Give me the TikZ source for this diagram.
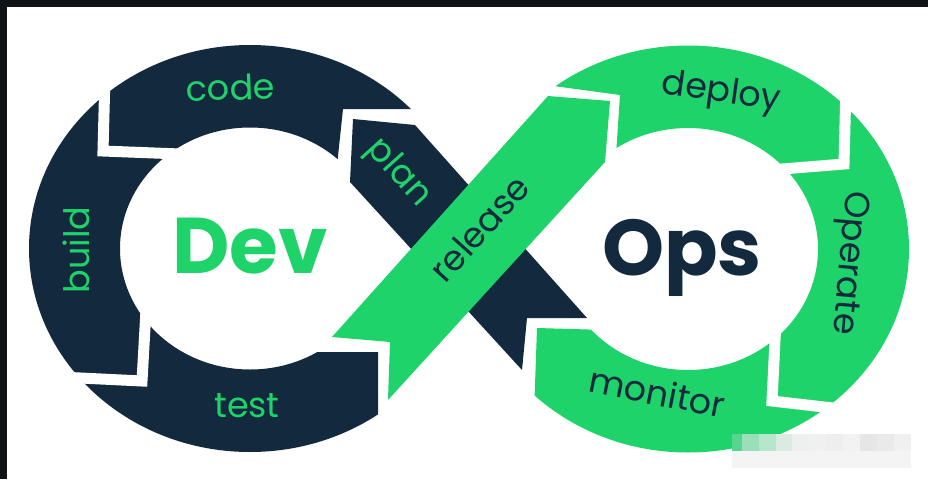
\documentclass[tikz,border=0pt]{standalone}
\usepackage{fontspec}
\setmainfont{Poppins}
\definecolor{navy}{HTML}{13293D}
\definecolor{leaf}{HTML}{1FD36B}
\definecolor{framedark}{HTML}{0E1318}
\definecolor{tilelight}{HTML}{F4F4F4}
\begin{document}
\begin{tikzpicture}[x=1pt,y=-1pt,
  gap/.style={draw=white,line width=11pt,line join=miter},
  lbl/.style={font=\fontsize{35}{40}\selectfont,anchor=base,inner sep=0pt},
  big/.style={font=\fontsize{79}{80}\selectfont\bfseries,anchor=base,inner sep=0pt}]
\useasboundingbox (0,0) rectangle (928,479);
\fill[white] (0,0) rectangle (928,479);
% dark frame edges
\fill[framedark] (0,0) rectangle (928,7);
\fill[framedark] (0,0) rectangle (7,479);

% left loop: code, build, test
\begin{scope}
  \clip (-20,-20) -- (460,-20) -- (460,109) -- (343,109) -- (336,175)
        -- (305,352) -- (378,352) -- (378,500) -- (-20,500) -- cycle;
  \fill[navy,even odd rule]
    (250,248.5) ellipse [x radius=221pt,y radius=203.5pt]
    (250,248.5) ellipse [x radius=130pt,y radius=121pt];
\end{scope}

% right loop: deploy, operate, monitor
\begin{scope}
  \clip (950,-20) -- (480,-20) -- (480,76) -- (620,95) -- (615,170)
        -- (640,331) -- (537,328) -- (531,500) -- (950,500) -- cycle;
  \fill[leaf,even odd rule]
    (688,249) ellipse [x radius=221pt,y radius=203.5pt]
    (688,249) ellipse [x radius=130pt,y radius=121pt];
\end{scope}

% crossing bands: plan (under) and release (over)
\fill[navy] (353,119) -- (415,125) -- (587,318) -- (527,318) -- (522,370) -- (350,182) -- cycle;
\fill[leaf] (332,337) -- (390,342) -- (388,400) -- (605,162) -- (610,101) -- (548,96) -- cycle;

% white chevron gaps between stages
\draw[gap] (105,75) -- (103,151) -- (180,154);
\draw[gap] (60,377) -- (142,381) -- (146,310);
\draw[gap] (846,85) -- (844,164) -- (770,170);
\draw[gap] (776,320) -- (772,401) -- (850,410);

% titles
\node[big,text=leaf] (dev) at (250,273) {Dev};
\node[big,text=navy] (ops) at (682,275) {Ops};

% stage labels
\node[lbl,text=leaf,rotate=2] (code) at (231,100) {code};
\node[lbl,text=leaf,rotate=90] (build) at (89,250) {build};
\node[lbl,text=leaf] (test) at (247,417) {test};
\node[lbl,text=leaf,rotate=-48] (plan) at (392,179) {plan};
\node[lbl,text=navy,rotate=48] (release) at (489,237) {release};
\node[lbl,text=navy,rotate=-8] (deploy) at (720,102) {deploy};
\node[lbl,text=navy,rotate=-95] (operate) at (840,262) {Operate};
\node[lbl,text=navy,rotate=-11] (monitor) at (655,405) {monitor};

% pixelated mosaic patch, lower right
\foreach \xa/\xb/\c in {732/742/55D58E, 742/759/9ADFB8, 759/776/B6E6CB, 776/792/DCEBE2,
    792/809/EDF0EE, 809/826/F0F0F0, 826/843/EEEEEE, 843/860/F2F2F2,
    860/877/E6E6E6, 877/894/EAEAEA, 894/911/F0F0F0}
  {\definecolor{tilec}{HTML}{\c}\fill[tilec] (\xa,434) rectangle (\xb,451);}
\fill[tilelight] (732,451) rectangle (911,468);
\end{tikzpicture}
\end{document}
